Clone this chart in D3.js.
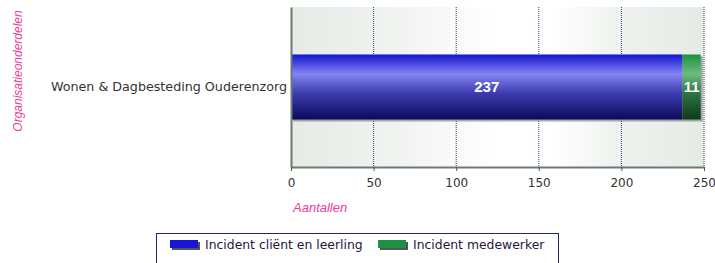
<!DOCTYPE html>
<html lang="nl">
<head>
<meta charset="UTF-8">
<title>Incidenten</title>
<style>
  body { margin: 0; background: #fff; }
  svg { display: block; font-family: "DejaVu Sans", Verdana, sans-serif; }
</style>
</head>
<body>
<div id="chart"></div>
<script src="https://d3js.org/d3.v7.min.js"></script>
<script>
// data
var categories = ["Wonen & Dagbesteding Ouderenzorg"];
var seriesNames = ["Incident cliënt en leerling", "Incident medewerker"];
var clientValues = [237];
var medewerkerValues = [11];
var xTicks = [0, 50, 100, 150, 200, 250];

var W = 715, H = 263;
var margin = { top: 7, left: 291, right: 11, bottom: 96 };
var width = 704 - margin.left, height = 167 - margin.top;

var svg = d3.select("#chart").append("svg").attr("width", W).attr("height", H);
var defs = svg.append("defs");

// background of plot area: vertical bands, greyish at edges, white middle
var bg = defs.append("linearGradient").attr("id", "bg").attr("x1", 0).attr("x2", 1).attr("y1", 0).attr("y2", 0);
[[0, "#e6ebe6"], [0.2, "#eef1ee"], [0.45, "#fcfcfc"], [0.5, "#ffffff"], [0.63, "#ffffff"], [0.8, "#eef1ee"], [1, "#e6ebe6"]]
  .forEach(function (s) { bg.append("stop").attr("offset", s[0]).attr("stop-color", s[1]); });

function barGrad(id, stops) {
  var g = defs.append("linearGradient").attr("id", id).attr("x1", 0).attr("x2", 0).attr("y1", 0).attr("y2", 1);
  stops.forEach(function (s) { g.append("stop").attr("offset", s[0]).attr("stop-color", s[1]); });
}
barGrad("gBlue", [[0, "#1414d0"], [0.3, "#8484f2"], [0.6, "#3c3cb0"], [1, "#0a0a5a"]]);
barGrad("gGreen", [[0, "#18923c"], [0.3, "#6cbc80"], [0.6, "#2c7444"], [1, "#0c3a18"]]);

var g = svg.append("g").attr("transform", "translate(" + margin.left + "," + margin.top + ")");

var x = d3.scaleLinear().domain([0, 250]).range([0, width]);
var y = d3.scaleBand().domain(categories).range([0, height]).paddingInner(0).paddingOuter(0.73);

g.append("rect").attr("width", width).attr("height", height).attr("fill", "url(#bg)");

// grid
g.selectAll(".grid").data(xTicks.slice(1)).enter().append("line")
  .attr("x1", function (d) { return x(d); }).attr("x2", function (d) { return x(d); })
  .attr("y1", 0).attr("y2", height)
  .attr("stroke", "#1f4e79").attr("stroke-width", 1).attr("stroke-dasharray", "1,1");

// stacked bars
var rows = categories.map(function (c, i) { return { cat: c, a: clientValues[i], b: medewerkerValues[i] }; });

rows.forEach(function (r) {
  // shadow
  g.append("rect").attr("x", x(0) + 2).attr("y", y(r.cat) + 2)
    .attr("width", x(r.a + r.b) - x(0)).attr("height", y.bandwidth())
    .attr("fill", "#777").attr("opacity", 0.6);
  g.append("rect").attr("x", x(0)).attr("y", y(r.cat))
    .attr("width", x(r.a) - x(0)).attr("height", y.bandwidth()).attr("fill", "url(#gBlue)");
  g.append("rect").attr("x", x(r.a)).attr("y", y(r.cat))
    .attr("width", x(r.a + r.b) - x(r.a)).attr("height", y.bandwidth()).attr("fill", "url(#gGreen)");

  g.append("text").attr("x", (x(0) + x(r.a)) / 2).attr("y", y(r.cat) + y.bandwidth() / 2)
    .attr("dy", "0.35em").attr("text-anchor", "middle").attr("font-family", "Liberation Sans, Arial, sans-serif")
    .attr("fill", "#fff").attr("font-weight", "bold").attr("font-size", 15).text(r.a);
  g.append("text").attr("x", (x(r.a) + x(r.a + r.b)) / 2).attr("y", y(r.cat) + y.bandwidth() / 2)
    .attr("dy", "0.35em").attr("text-anchor", "middle").attr("font-family", "Liberation Sans, Arial, sans-serif")
    .attr("fill", "#fff").attr("font-weight", "bold").attr("font-size", 15).text(r.b);
});

// axes
var xAxis = g.append("g").attr("transform", "translate(0," + height + ")")
  .call(d3.axisBottom(x).tickValues(xTicks).tickSize(4).tickSizeOuter(0));
xAxis.select(".domain").attr("stroke", "#6f7a6f").attr("stroke-width", 2);
xAxis.selectAll(".tick line").attr("stroke", "#555");
xAxis.selectAll("text").attr("font-size", 12).attr("fill", "#333").attr("dy", "1.1em")
  .attr("font-family", "DejaVu Sans, Verdana, sans-serif");

var yAxis = g.append("g").call(d3.axisLeft(y).tickSize(0).tickPadding(4));
yAxis.select(".domain").attr("stroke", "#6f7a6f").attr("stroke-width", 2);
yAxis.selectAll("text").attr("font-size", 12.7).attr("fill", "#333")
  .attr("font-family", "DejaVu Sans, Verdana, sans-serif");

// axis titles
svg.append("text").attr("x", 293).attr("y", 212).attr("font-size", 13)
  .attr("font-style", "italic").attr("fill", "#e8409a").attr("font-family", "Liberation Sans, Arial, sans-serif").text("Aantallen");
svg.append("text").attr("transform", "translate(22,71) rotate(-90)").attr("text-anchor", "middle")
  .attr("font-size", 12).attr("font-style", "italic").attr("fill", "#e8409a")
  .attr("font-family", "Liberation Sans, Arial, sans-serif").text("Organisatieonderdelen");

// legend
var lg = svg.append("g").attr("transform", "translate(156,233)");
lg.append("rect").attr("x", 0.5).attr("y", 0.5).attr("width", 402).attr("height", 40)
  .attr("fill", "#fff").attr("stroke", "#1a2a6c").attr("stroke-width", 1);
var legColors = ["#1616d6", "#1f8f45"];
var legX = [14, 222];
seriesNames.forEach(function (n, i) {
  lg.append("rect").attr("x", legX[i] + 2).attr("y", 9).attr("width", 28).attr("height", 8).attr("fill", "#555");
  lg.append("rect").attr("x", legX[i]).attr("y", 7).attr("width", 28).attr("height", 8).attr("fill", legColors[i]);
  lg.append("text").attr("x", legX[i] + 35).attr("y", 16).attr("font-size", 12.4)
    .attr("fill", "#2a1440").text(n);
});
</script>
</body>
</html>
